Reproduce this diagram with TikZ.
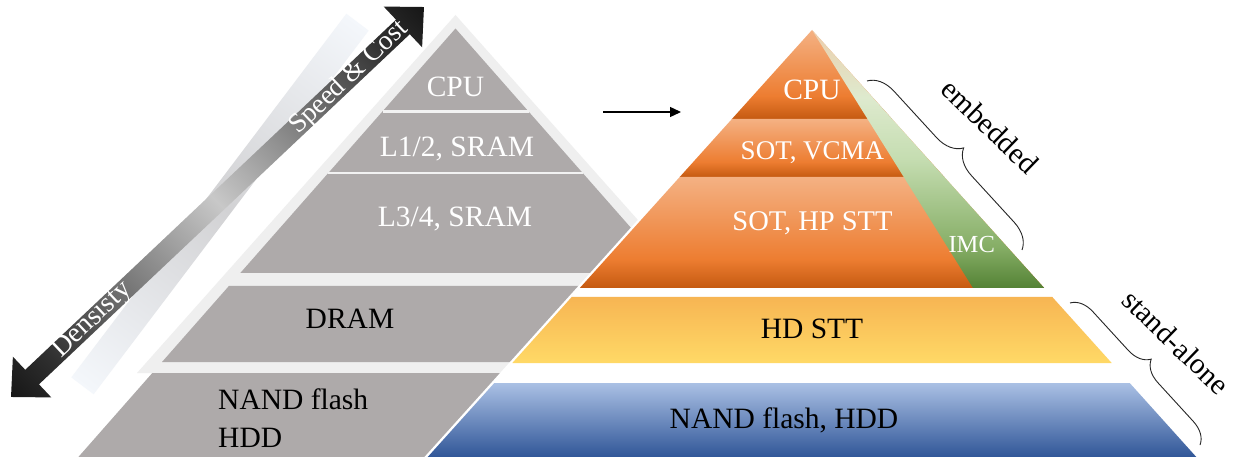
\documentclass[tikz,border=0pt]{standalone}
\usepackage{fontspec}
\setmainfont{Liberation Serif}
\usetikzlibrary{arrows.meta,decorations.pathreplacing}
\definecolor{grayP}{RGB}{174,170,170}
\definecolor{lightG}{RGB}{239,239,239}
\definecolor{sepC}{RGB}{242,242,242}
\definecolor{orLight}{RGB}{244,177,131}
\definecolor{orMid}{RGB}{237,125,49}
\definecolor{orDark}{RGB}{197,90,17}
\definecolor{yeTop}{RGB}{247,181,83}
\definecolor{yeBot}{RGB}{255,217,102}
\definecolor{blTop}{RGB}{170,192,228}
\definecolor{blBot}{RGB}{47,85,151}
\definecolor{gDark}{RGB}{84,130,53}
\definecolor{gMid}{RGB}{134,174,102}
\definecolor{gLight}{RGB}{197,221,177}
\definecolor{gPale}{RGB}{222,234,206}
\definecolor{gTop}{RGB}{236,206,172}
\definecolor{aEnd}{RGB}{22,22,22}
\definecolor{aDark}{RGB}{48,48,48}
\definecolor{aMid}{RGB}{125,125,125}
\definecolor{aLight}{RGB}{200,200,200}
\definecolor{bEnd}{RGB}{244,247,251}
\definecolor{bMid}{RGB}{210,210,212}
\pgfdeclareverticalshading{orshade}{100bp}{color(0bp)=(orDark); color(25bp)=(orDark); color(38bp)=(orMid); color(75bp)=(orLight); color(100bp)=(orLight)}
\pgfdeclareverticalshading{imcshade}{100bp}{color(0bp)=(gDark); color(25bp)=(gDark); color(33bp)=(gMid); color(50bp)=(gLight); color(62bp)=(gPale); color(75bp)=(gTop); color(100bp)=(gTop)}
\pgfdeclarehorizontalshading{arrowshade}{100bp}{color(0bp)=(aEnd); color(25bp)=(aEnd); color(30bp)=(aDark); color(40bp)=(aMid); color(50bp)=(aLight); color(60bp)=(aMid); color(70bp)=(aDark); color(75bp)=(aEnd); color(100bp)=(aEnd)}
\pgfdeclarehorizontalshading{bandshade}{100bp}{color(0bp)=(bEnd); color(25bp)=(bEnd); color(50bp)=(bMid); color(75bp)=(bEnd); color(100bp)=(bEnd)}
\begin{document}
\begin{tikzpicture}[x=1pt,y=-1pt,
  lbl/.style={font=\fontsize{29.5}{34}\selectfont, inner sep=0pt},
  wlbl/.style={lbl, text=white},
  sepline/.style={draw=sepC, line width=2.5pt},
  bracesty/.style={decorate, line width=0.9pt, draw=black!85},
  orlayer/.style={shading=orshade}]
\path[use as bounding box, fill=white] (0,0) rectangle (1235,457);

% light reflection band
\begin{scope}[transform canvas={shift={(220,204)}, rotate=52.9}]
  \shade[shading=bandshade] (-228,-14) rectangle (228,14);
\end{scope}

% double arrow Density / Speed & Cost
\begin{scope}[transform canvas={shift={(217.5,202)}, rotate=43.36}]
  \shade[shading=arrowshade] (-284,0) -- (-255,28) -- (-255,10) -- (255,10) -- (255,28) -- (284,0)
     -- (255,-28) -- (255,-10) -- (-255,-10) -- (-255,-28) -- cycle;
  \node[wlbl, font=\fontsize{27.5}{32}\selectfont] (speed) at (181,0) {Speed \& Cost};
  \node[wlbl, font=\fontsize{28}{32}\selectfont] (dens) at (-172,0) {Densisty};
\end{scope}

% left pyramid
\fill[lightG] (455.5,15) -- (137,373) -- (774,373) -- cycle;
\fill[grayP] (455.5,28.5) -- (240.3,273) -- (670.7,273) -- cycle;
\draw[sepline] (382.5,111.5) -- (528.5,111.5);
\draw[sepline] (328.3,173) -- (582.7,173);
\fill[grayP] (228.9,286) -- (682.1,286) -- (749,362) -- (162,362) -- cycle;
\fill[grayP] (152.3,373) -- (758.7,373) -- (833.5,458) -- (77.5,458) -- cycle;

\node[wlbl, anchor=base] (lcpu) at (455.5,97) {CPU};
\node[wlbl, anchor=base] (l12) at (457,157) {L1/2, SRAM};
\node[wlbl, anchor=base] (l34) at (455,227) {L3/4, SRAM};
\node[lbl, anchor=base] (ldram) at (350,328) {DRAM};
\node[lbl, anchor=base west] (lnand) at (218,409) {NAND flash};
\node[lbl, anchor=base west] (lhdd) at (218,447) {HDD};

% right pyramid
\filldraw[white, line width=2pt] (812,28) -- (424,459) -- (1200,459) -- cycle;
\shade[orlayer] (812,30) -- (731.9,119) -- (892.1,119) -- cycle;
\shade[orlayer] (731.9,119) -- (892.1,119) -- (944.3,177) -- (679.7,177) -- cycle;
\shade[orlayer] (679.7,177) -- (944.3,177) -- (1044.2,288) -- (579.8,288) -- cycle;
\shade[shading=imcshade] (812,30) -- (1044.2,288) -- (973,288) -- cycle;
\shade[top color=yeTop, bottom color=yeBot] (571.7,297) -- (1052.3,297) -- (1111.7,363) -- (512.3,363) -- cycle;
\shade[top color=blTop, bottom color=blBot] (494.3,383) -- (1129.7,383) -- (1197.2,458) -- (426.8,458) -- cycle;

\node[wlbl, anchor=base] (rcpu) at (812,100) {CPU};
\node[wlbl, anchor=base, font=\fontsize{27}{32}\selectfont] (rvcma) at (812.5,160) {SOT, VCMA};
\node[wlbl, anchor=base, font=\fontsize{28.5}{32}\selectfont] (rhp) at (812.5,231) {SOT, HP STT};
\node[wlbl, anchor=base, font=\fontsize{24.5}{28}\selectfont] (rimc) at (971.7,253) {IMC};
\node[lbl, anchor=base] (rhd) at (812,338) {HD STT};
\node[lbl, anchor=base] (rnand) at (784,428) {NAND flash, HDD};

% arrow between pyramids
\coordinate (arrS) at (603,112);
\coordinate (arrE) at (681,112);
\draw[line width=1.4pt, -{Triangle[length=11pt,width=10pt]}] (arrS) -- (arrE);

% braces
\coordinate (e1) at (867,81);
\coordinate (e2) at (1022,250);
\draw[bracesty, decoration={brace, amplitude=26pt, aspect=0.5}] (e1) -- (e2);
\coordinate (s1) at (1070,303);
\coordinate (s2) at (1200,445);
\draw[bracesty, decoration={brace, amplitude=22pt, aspect=0.5}] (s1) -- (s2);
\node[lbl, rotate=-44] (emb) at (990,126) {embedded};
\node[lbl, rotate=-44] (sa) at (1176,342) {stand-alone};
\end{tikzpicture}
\end{document}
